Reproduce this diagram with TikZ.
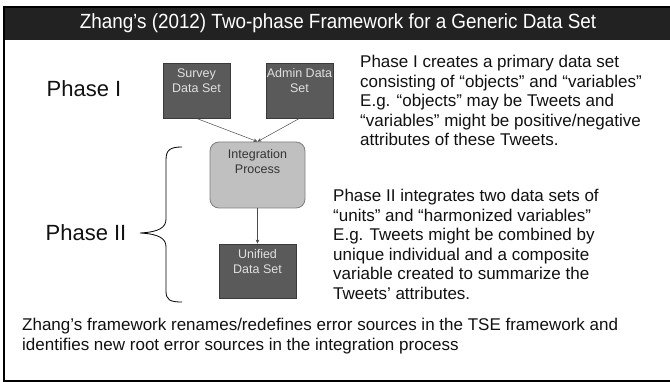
\documentclass[tikz,border=0pt]{standalone}
\usepackage{fontspec}
\setmainfont{Liberation Sans}
\usetikzlibrary{arrows.meta}
\definecolor{titlebg}{HTML}{222222}
\definecolor{darkbox}{HTML}{5A5A5A}
\definecolor{darkboxline}{HTML}{3A3A3A}
\definecolor{darkboxtext}{HTML}{E0E0E0}
\definecolor{procbox}{HTML}{C0C0C0}
\definecolor{procline}{HTML}{7F7F7F}
\definecolor{bodytext}{HTML}{111111}
\tikzset{
  x=1pt, y=-1pt,
  body/.style={font=\fontsize{17}{19.6}\selectfont, text=bodytext, align=left, inner sep=0pt},
  phase/.style={font=\fontsize{22}{24}\selectfont, text=bodytext, inner sep=0pt},
  boxtext/.style={anchor=north, inner sep=0pt, align=center,
    font=\fontsize{12.5}{15}\selectfont},
  databox/.style={draw=darkboxline, fill=darkbox, line width=0.8pt, inner sep=0pt},
  dtext/.style={boxtext, text=darkboxtext},
  procbox/.style={draw=procline, fill=procbox, line width=0.8pt,
    rounded corners=9pt, inner sep=0pt},
  ptext/.style={boxtext, text=bodytext!85},
  flow/.style={draw=black!70, line width=0.5pt, -{Stealth[length=4pt,width=3.5pt]}},
}
\begin{document}
\begin{tikzpicture}
\useasboundingbox (0,0) rectangle (670,382);
\fill[white] (0,0) rectangle (670,382);
% slide frame and title bar
\fill[titlebg] (4,7) rectangle (672,40);
\draw[black, line width=1.6pt] (672,7) -- (4,7) -- (4,381) -- (672,381);
\node[text=white, font=\fontsize{20.5}{24}\selectfont, inner sep=0pt] (title) at (338,23.5)
  {\scalebox{0.92}[1]{Zhang’s (2012) Two-phase Framework for a Generic Data Set}};

% phase labels
\node[phase] (p1) at (84,89) {Phase I};
\node[phase] (p2) at (86,233) {Phase II};

% curly brace for phase II
\draw[black, line width=0.8pt]
  (182,147) .. controls (170,147) and (166,150) .. (166,160)
  -- (166,219) .. controls (166,227) and (160,232) .. (140,233)
  .. controls (160,234) and (166,239) .. (166,247)
  -- (166,291) .. controls (166,300) and (170,302) .. (182,302);

% boxes, captions sit near the top edge
\node[databox, minimum width=67pt, minimum height=55pt,
  label={[dtext, yshift=-6pt]north:{Survey\\Data Set}}] (survey) at (196.5,90.5) {};
\node[databox, minimum width=67pt, minimum height=55pt,
  label={[dtext, yshift=-6pt]north:{Admin Data\\Set}}] (admin) at (299.5,90.5) {};
\node[procbox, minimum width=95pt, minimum height=66pt,
  label={[ptext, yshift=-7.5pt]north:{Integration\\Process}}] (integ) at (257.5,175) {};
\node[databox, minimum width=77pt, minimum height=54pt,
  label={[dtext, yshift=-6pt]north:{Unified\\Data Set}}] (unified) at (257.5,271) {};

\draw[flow] (survey.south) -- (integ.north);
\draw[flow] (admin.south) -- (integ.north);
\draw[flow] (integ.south) -- (unified.north);

% descriptive text
\node[body, anchor=north west] (t1) at (360,55) {Phase I creates a primary data set\\
consisting of “objects” and “variables”\\
E.g. “objects” may be Tweets and\\
“variables” might be positive/negative\\
attributes of these Tweets.};
\node[body, anchor=north west] (t2) at (333,189) {Phase II integrates two data sets of\\
“units” and “harmonized variables”\\
E.g. Tweets might be combined by\\
unique individual and a composite\\
variable created to summarize the\\
Tweets’ attributes.};
\node[body, anchor=north west] (t3) at (22,318) {Zhang’s framework renames/redefines error sources in the TSE framework and\\
identifies new root error sources in the integration process};
\end{tikzpicture}
\end{document}
